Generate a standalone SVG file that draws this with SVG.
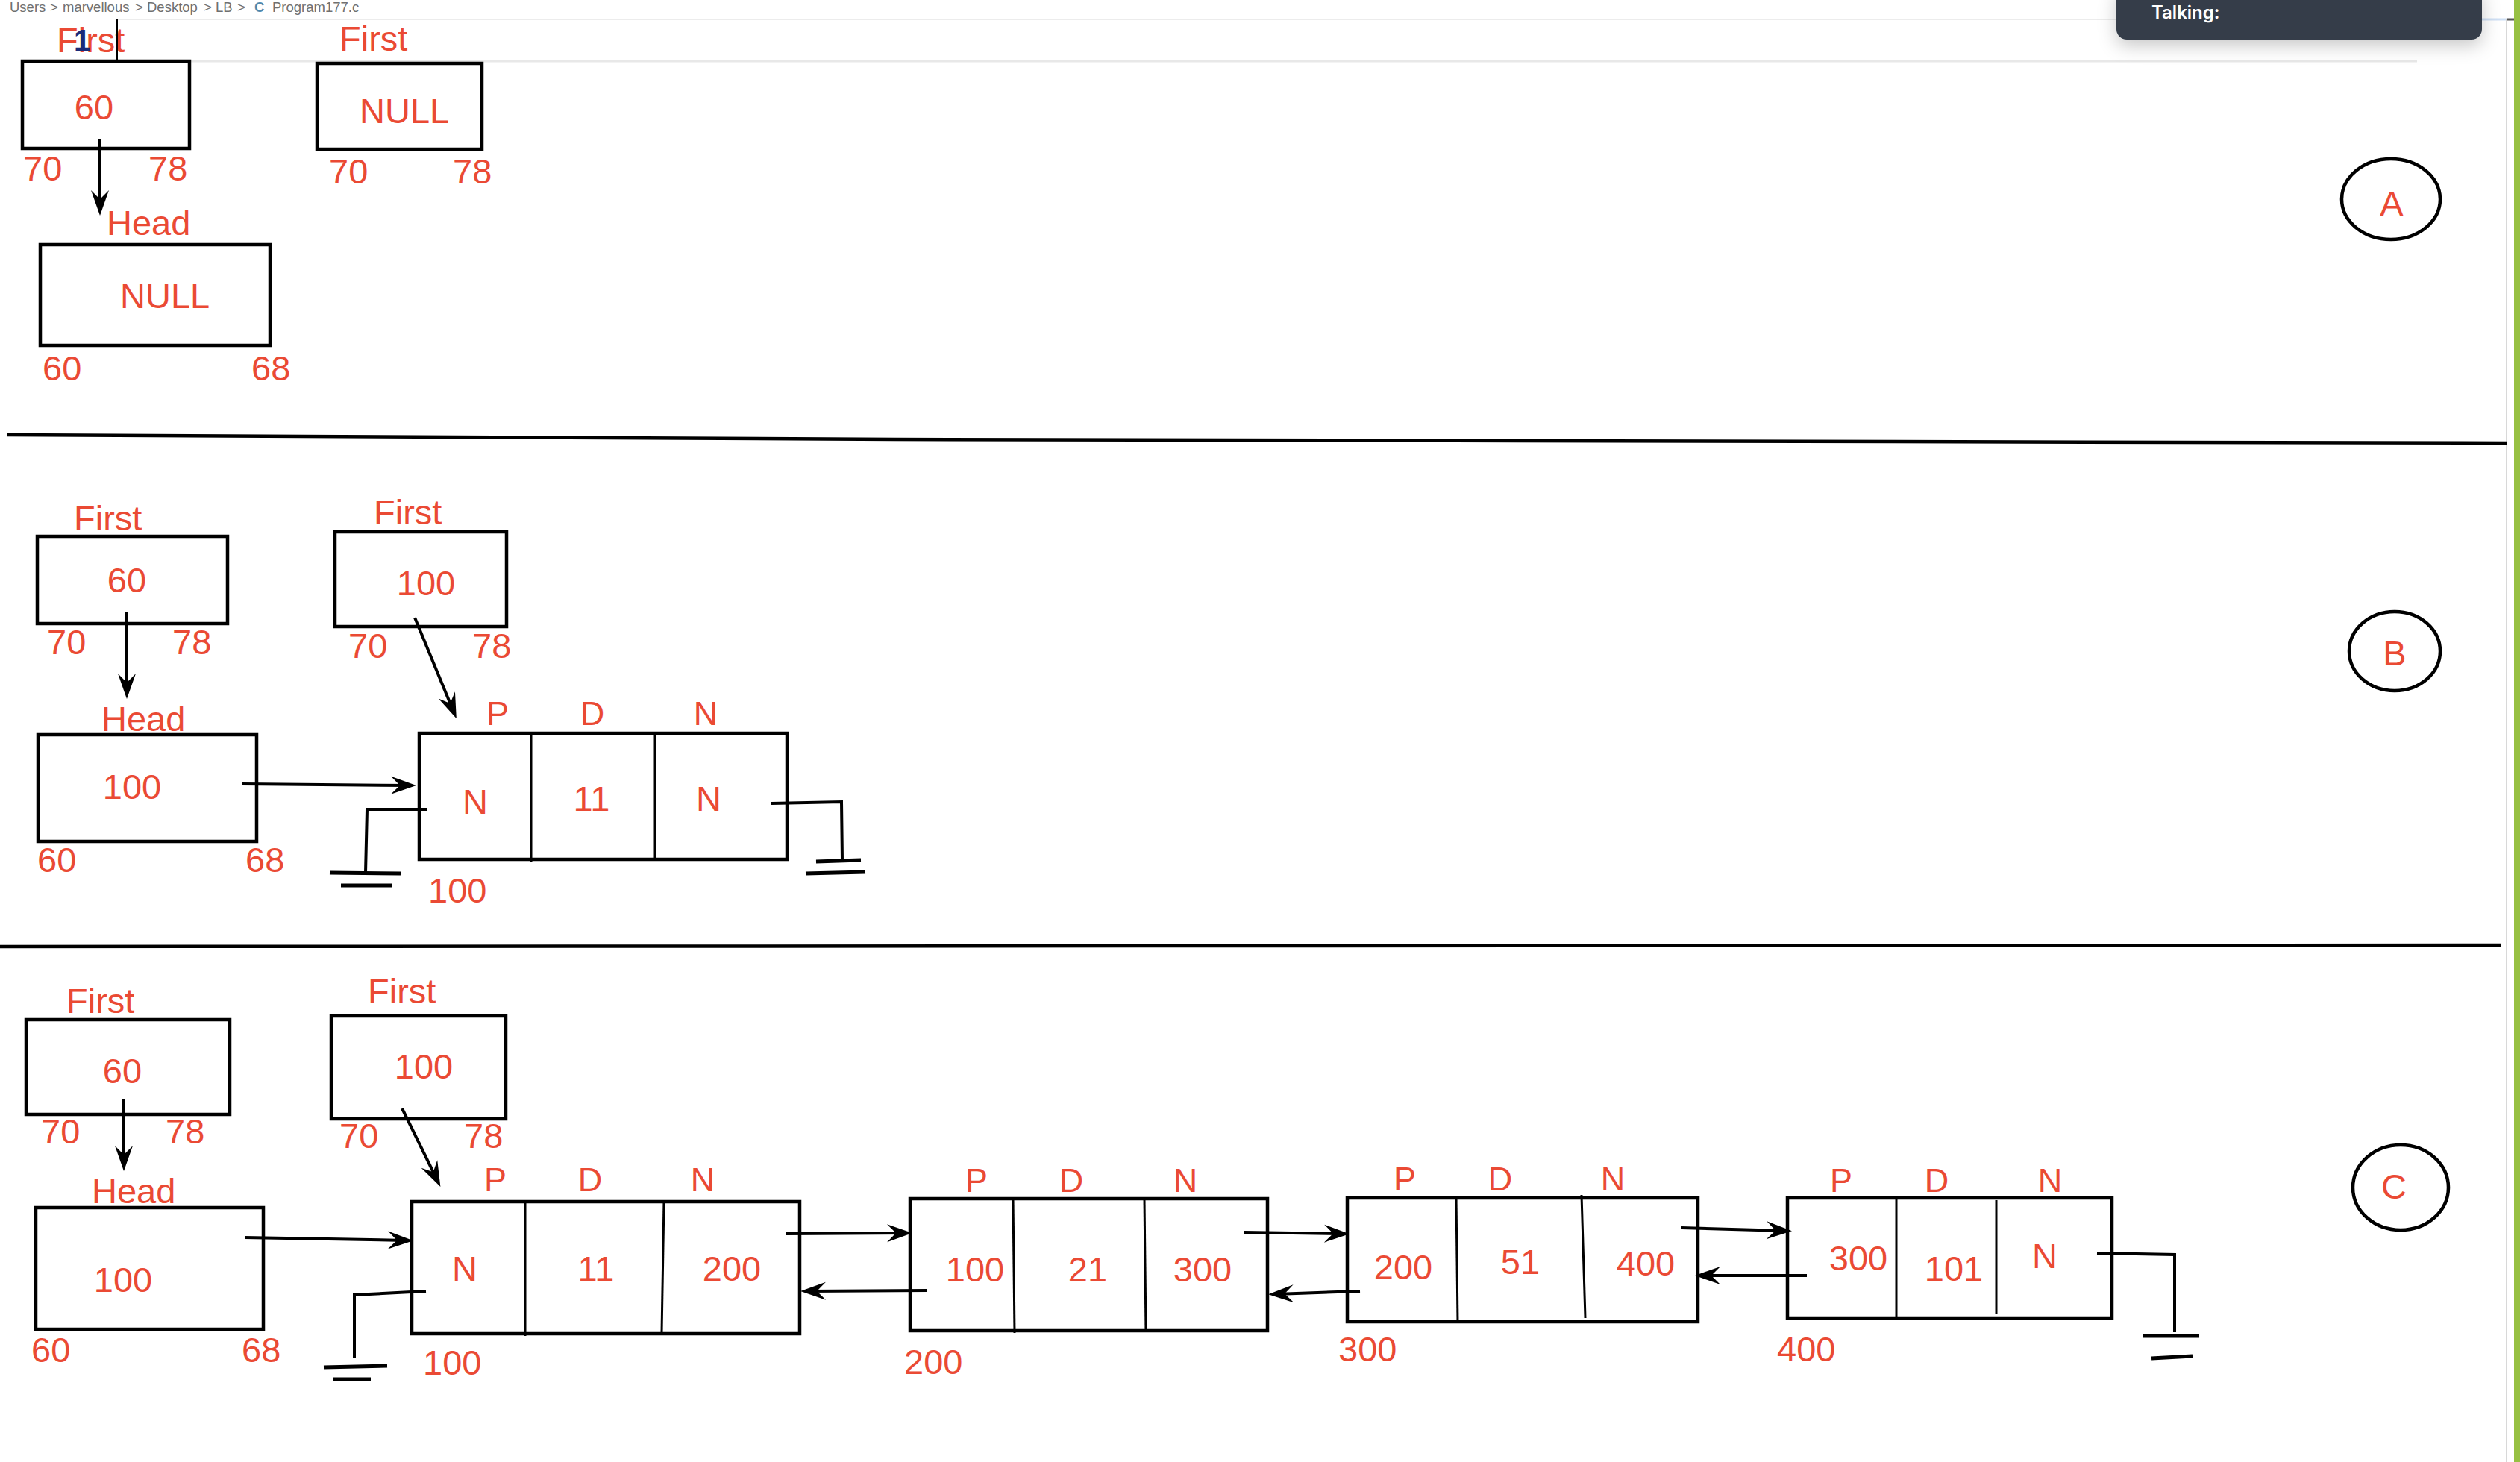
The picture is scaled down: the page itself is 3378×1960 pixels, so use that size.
<svg xmlns="http://www.w3.org/2000/svg" width="3378" height="1960" viewBox="0 0 3378 1960">
<style>
.t{font-family:"Liberation Sans",Arial,sans-serif;font-size:47px;fill:#ea4a34;transform:translate(0px,3px)}
.s{font-size:45px}
.m{text-anchor:middle}
.box{fill:none;stroke:#000;stroke-width:4.5}
.div{fill:none;stroke:#000;stroke-width:3}
.con{fill:none;stroke:#000;stroke-width:4}
.gnd{fill:none;stroke:#000;stroke-width:5}
.crumb{font-family:"Liberation Sans",Arial,sans-serif;font-size:18.5px;fill:#707070}
</style>
<defs>
<marker id="ah" viewBox="-36 -14 48 28" refX="0" refY="0" markerWidth="48" markerHeight="28" markerUnits="userSpaceOnUse" orient="auto">
<path d="M10,0 L-24,-12 L-12,0 L-24,12 Z" fill="#000"/>
</marker>
<filter id="sh" x="-20%" y="-50%" width="140%" height="250%">
<feDropShadow dx="0" dy="8" stdDeviation="12" flood-color="#000" flood-opacity="0.22"/>
</filter>
</defs>
<rect width="3378" height="1960" fill="#fff"/>

<g id="chrome">
<line x1="158" y1="26" x2="3327" y2="26" stroke="#ececec" stroke-width="2"/>
<line x1="3327" y1="26" x2="3360" y2="26" stroke="#cfe0f5" stroke-width="3"/>
<line x1="3360" y1="26" x2="3370" y2="26" stroke="#555" stroke-width="3"/>
<line x1="254" y1="82" x2="3240" y2="82" stroke="#e8e8e8" stroke-width="3"/>
<line x1="3360" y1="26" x2="3360" y2="1960" stroke="#d8d8d8" stroke-width="2"/>
<rect x="3370" y="0" width="8" height="1960" fill="#97c043"/>
<text class="crumb" x="13" y="16">Users</text>
<text class="crumb" x="67" y="16">&gt;</text>
<text class="crumb" x="84" y="16">marvellous</text>
<text class="crumb" x="181" y="16">&gt;</text>
<text class="crumb" x="197" y="16">Desktop</text>
<text class="crumb" x="273" y="16">&gt;</text>
<text class="crumb" x="289" y="16">LB</text>
<text class="crumb" x="318" y="16">&gt;</text>
<text class="crumb" x="341" y="16" style="fill:#4f88ad;font-weight:bold">C</text>
<text class="crumb" x="365" y="16">Program177.c</text>
<rect x="2837" y="-20" width="490" height="73" rx="14" fill="#343e4a" filter="url(#sh)"/>
<text x="2884" y="25" style="font-family:Inter,'Liberation Sans',sans-serif;font-size:24px;font-weight:600;fill:#fff">Talking:</text>
</g>

<g id="separators">
<path d="M9,583 L1200,589 L3361,594" class="con" style="stroke-width:4.5"/>
<path d="M0,1269 L3352,1267" class="con" style="stroke-width:4.5"/>
</g>

<!-- Section A -->
<g id="A-first-60">
<text class="t" x="76" y="67">First</text>
<text x="99" y="68" style="font-family:'Liberation Sans',Arial,sans-serif;font-size:40px;font-weight:bold;fill:#1b2a78">1</text>
<line x1="157" y1="25" x2="157" y2="81" stroke="#000" stroke-width="2"/>
<rect class="box" x="30" y="82" width="224" height="117"/>
<text class="t m" x="126" y="157">60</text>
<text class="t" x="31" y="239">70</text>
<text class="t" x="199" y="239">78</text>
</g>
<g id="A-head">
<text class="t" x="143" y="312">Head</text>
<rect class="box" x="54" y="328" width="308" height="135"/>
<text class="t" x="161" y="410">NULL</text>
<text class="t" x="57" y="507">60</text>
<text class="t" x="337" y="507">68</text>
</g>
<g id="A-first-null">
<text class="t" x="455" y="65">First</text>
<rect class="box" x="425" y="85" width="221" height="115"/>
<text class="t" x="482" y="162">NULL</text>
<text class="t" x="441" y="243">70</text>
<text class="t" x="607" y="243">78</text>
</g>
<g id="A-label">
<ellipse cx="3205" cy="267" rx="66" ry="54" class="box"/>
<text class="t m" x="3206" y="286">A</text>
</g>

<!-- Section B -->
<g id="B-first-60">
<text class="t" x="99" y="708">First</text>
<rect class="box" x="50" y="719" width="255" height="117"/>
<text class="t m" x="170" y="791">60</text>
<text class="t" x="63" y="874">70</text>
<text class="t" x="231" y="874">78</text>
</g>
<g id="B-head">
<text class="t" x="136" y="977">Head</text>
<rect class="box" x="51" y="985" width="293" height="143"/>
<text class="t m" x="177" y="1068">100</text>
<text class="t" x="50" y="1166">60</text>
<text class="t" x="329" y="1166">68</text>
</g>
<g id="B-first-100">
<text class="t" x="501" y="700">First</text>
<rect class="box" x="449" y="713" width="230" height="127"/>
<text class="t m" x="571" y="795">100</text>
<text class="t" x="467" y="879">70</text>
<text class="t" x="633" y="879">78</text>
</g>
<g id="B-node-100">
<text class="t s m" x="667" y="969">P</text>
<text class="t s m" x="794" y="969">D</text>
<text class="t s m" x="946" y="969">N</text>
<rect class="box" x="562" y="983" width="493" height="169"/>
<line class="div" x1="712" y1="983" x2="712" y2="1156"/>
<line class="div" x1="878" y1="983" x2="878" y2="1152"/>
<text class="t m" x="637" y="1088">N</text>
<text class="t m" x="793" y="1084">11</text>
<text class="t m" x="950" y="1084">N</text>
<text class="t" x="574" y="1207">100</text>
<path class="con" d="M572,1085 L492,1085 L490,1170"/>
<line class="gnd" x1="442" y1="1170" x2="537" y2="1171"/>
<line class="gnd" x1="457" y1="1187" x2="525" y2="1187"/>
<path class="con" d="M1034,1077 L1128,1075 L1129,1153"/>
<line class="gnd" x1="1094" y1="1155" x2="1154" y2="1153"/>
<line class="gnd" x1="1080" y1="1171" x2="1160" y2="1169"/>
</g>
<g id="B-label">
<ellipse cx="3210" cy="873" rx="61" ry="53" class="box"/>
<text class="t m" x="3210" y="889">B</text>
</g>

<!-- Section C -->
<g id="C-first-60">
<text class="t" x="89" y="1355">First</text>
<rect class="box" x="35" y="1367" width="273" height="127"/>
<text class="t m" x="164" y="1449">60</text>
<text class="t" x="55" y="1530">70</text>
<text class="t" x="222" y="1530">78</text>
</g>
<g id="C-head">
<text class="t" x="123" y="1610">Head</text>
<rect class="box" x="48" y="1619" width="305" height="163"/>
<text class="t m" x="165" y="1729">100</text>
<text class="t" x="42" y="1823">60</text>
<text class="t" x="324" y="1823">68</text>
</g>
<g id="C-first-100">
<text class="t" x="493" y="1342">First</text>
<rect class="box" x="444" y="1362" width="234" height="138"/>
<text class="t m" x="568" y="1443">100</text>
<text class="t" x="455" y="1536">70</text>
<text class="t" x="622" y="1536">78</text>
</g>
<g id="C-node-100">
<text class="t s m" x="664" y="1594">P</text>
<text class="t s m" x="791" y="1594">D</text>
<text class="t s m" x="942" y="1594">N</text>
<rect class="box" x="552" y="1611" width="520" height="177"/>
<line class="div" x1="704" y1="1611" x2="704" y2="1791"/>
<line class="div" x1="890" y1="1611" x2="887" y2="1788"/>
<text class="t m" x="623" y="1714">N</text>
<text class="t m" x="799" y="1714">11</text>
<text class="t m" x="981" y="1714">200</text>
<text class="t" x="567" y="1840">100</text>
<path class="con" d="M571,1731 L475,1736 L475,1820"/>
<line class="gnd" x1="434" y1="1833" x2="519" y2="1831"/>
<line class="gnd" x1="447" y1="1849" x2="497" y2="1849"/>
</g>
<g id="C-node-200">
<text class="t s m" x="1309" y="1595">P</text>
<text class="t s m" x="1436" y="1595">D</text>
<text class="t s m" x="1589" y="1595">N</text>
<rect class="box" x="1220" y="1607" width="479" height="177"/>
<line class="div" x1="1358" y1="1607" x2="1360" y2="1787"/>
<line class="div" x1="1534" y1="1607" x2="1536" y2="1784"/>
<text class="t m" x="1307" y="1715">100</text>
<text class="t m" x="1458" y="1715">21</text>
<text class="t m" x="1612" y="1715">300</text>
<text class="t" x="1212" y="1839">200</text>
</g>
<g id="C-node-300">
<text class="t s m" x="1883" y="1593">P</text>
<text class="t s m" x="2011" y="1593">D</text>
<text class="t s m" x="2162" y="1593">N</text>
<rect class="box" x="1806" y="1606" width="470" height="166"/>
<line class="div" x1="1952" y1="1606" x2="1954" y2="1772"/>
<line class="div" x1="2120" y1="1602" x2="2125" y2="1767"/>
<text class="t m" x="1881" y="1712">200</text>
<text class="t m" x="2038" y="1705">51</text>
<text class="t m" x="2206" y="1707">400</text>
<text class="t" x="1794" y="1822">300</text>
</g>
<g id="C-node-400">
<text class="t s m" x="2468" y="1595">P</text>
<text class="t s m" x="2596" y="1595">D</text>
<text class="t s m" x="2748" y="1595">N</text>
<rect class="box" x="2396" y="1606" width="435" height="161"/>
<line class="div" x1="2542" y1="1606" x2="2542" y2="1767"/>
<line class="div" x1="2676" y1="1609" x2="2676" y2="1762"/>
<text class="t m" x="2491" y="1700">300</text>
<text class="t m" x="2619" y="1714">101</text>
<text class="t m" x="2741" y="1697">N</text>
<text class="t" x="2382" y="1822">400</text>
<path class="con" d="M2811,1680 L2915,1682 L2915,1786"/>
<line class="gnd" x1="2873" y1="1791" x2="2948" y2="1791"/>
<line class="gnd" x1="2884" y1="1821" x2="2939" y2="1818"/>
</g>
<g id="C-label">
<ellipse cx="3218" cy="1592" rx="64" ry="57" class="box"/>
<text class="t m" x="3209" y="1604">C</text>
</g>

<g id="connectors" class="con">
<line x1="134" y1="186" x2="134" y2="279" marker-end="url(#ah)"/>
<line x1="170" y1="820" x2="170" y2="927" marker-end="url(#ah)"/>
<line x1="556" y1="828" x2="608" y2="954" marker-end="url(#ah)"/>
<line x1="325" y1="1051" x2="548" y2="1053" marker-end="url(#ah)"/>
<line x1="166" y1="1474" x2="166" y2="1560" marker-end="url(#ah)"/>
<line x1="539" y1="1486" x2="586" y2="1582" marker-end="url(#ah)"/>
<line x1="328" y1="1659" x2="544" y2="1663" marker-end="url(#ah)"/>
<line x1="1054" y1="1654" x2="1213" y2="1653" marker-end="url(#ah)"/>
<line x1="1242" y1="1730" x2="1083" y2="1731" marker-end="url(#ah)"/>
<line x1="1668" y1="1652" x2="1799" y2="1654" marker-end="url(#ah)"/>
<line x1="1823" y1="1731" x2="1710" y2="1735" marker-end="url(#ah)"/>
<line x1="2254" y1="1646" x2="2392" y2="1650" marker-end="url(#ah)"/>
<line x1="2422" y1="1710" x2="2282" y2="1710" marker-end="url(#ah)"/>
</g>
</svg>
